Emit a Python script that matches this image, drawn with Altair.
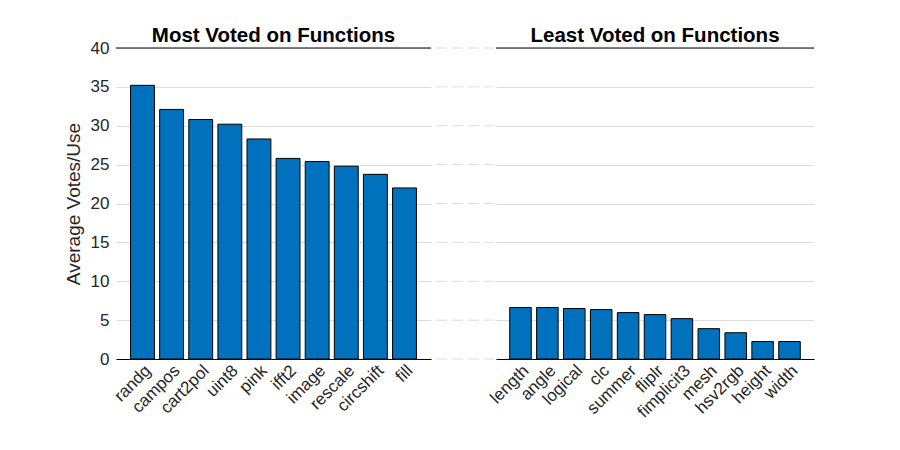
import altair as alt
import pandas as pd

most_names = ["randg", "campos", "cart2pol", "uint8", "pink", "ifft2", "image", "rescale", "circshift", "fill"]
most_vals = [35.2, 32.1, 30.8, 30.2, 28.3, 25.8, 25.4, 24.8, 23.75, 22.0]
least_names = ["length", "angle", "logical", "clc", "summer", "fliplr", "fimplicit3", "mesh", "hsv2rgb", "height", "width"]
least_vals = [6.62, 6.62, 6.49, 6.36, 5.97, 5.71, 5.19, 3.9, 3.38, 2.25, 2.25]
y_ticks = [0, 5, 10, 15, 20, 25, 30, 35, 40]

BLUE = "#0072BD"
GRID = "#dcdcdc"
TXT = "#262626"
FONT = "Liberation Sans"
H = 311


def yscale():
    return alt.Scale(domain=[0, 40], nice=False, zero=True)


def yaxis(show_y):
    return alt.Axis(values=y_ticks, title="Average Votes/Use" if show_y else None,
                    labels=show_y, ticks=False, domain=False, grid=True,
                    gridColor=GRID, gridWidth=1, labelFontSize=17, labelOverlap=False,
                    labelColor=TXT, labelFont=FONT, labelPadding=7,
                    titleFont=FONT, titleFontSize=19, titleFontWeight="normal",
                    titleColor=TXT, titlePadding=7)


def panel(names, vals, title, width, show_y, pi, po, toff):
    df = pd.DataFrame({"name": names, "value": vals})
    bars = alt.Chart(df).mark_bar(color=BLUE, stroke="black", strokeWidth=1).encode(
        x=alt.X("name:N", sort=names,
                scale=alt.Scale(paddingInner=pi, paddingOuter=po),
                axis=alt.Axis(title=None, labelAngle=-45, ticks=False, domainColor="black",
                              domainWidth=1, labelFontSize=17, labelColor=TXT,
                              labelFont=FONT, grid=False, labelPadding=3, labelOverlap=False)),
        y=alt.Y("value:Q", scale=yscale(), axis=yaxis(show_y)),
    )
    top = alt.Chart(pd.DataFrame({"value": [40]})).mark_rule(color="black", strokeWidth=1).encode(
        y=alt.Y("value:Q", scale=yscale(), axis=yaxis(show_y))
    )
    return alt.layer(bars, top).properties(
        width=width, height=H,
        title=alt.TitleParams(title, font=FONT, fontSize=20.5, fontWeight="bold", color="black", offset=toff),
    )


left = panel(most_names, most_vals, "Most Voted on Functions", 315, True, 0.18, 0.5, -7)
right = panel(least_names, least_vals, "Least Voted on Functions", 318, False, 0.2, 0.51, 1)

gap = alt.Chart(pd.DataFrame({"value": y_ticks})).mark_rule(color=GRID, strokeWidth=1, strokeDash=[11, 5]).encode(
    y=alt.Y("value:Q", scale=yscale(), axis=None),
    x=alt.value(5),
    x2=alt.value(63),
).properties(width=65, height=H)

chart = alt.hconcat(left, gap, right, spacing=0, bounds="flush").resolve_scale(
    y="independent", x="independent"
).configure_view(stroke=None).properties(padding={"left": 56, "top": 17, "right": 5, "bottom": 5})

chart.save("out.html", embed_options={"renderer": "svg", "actions": False})
